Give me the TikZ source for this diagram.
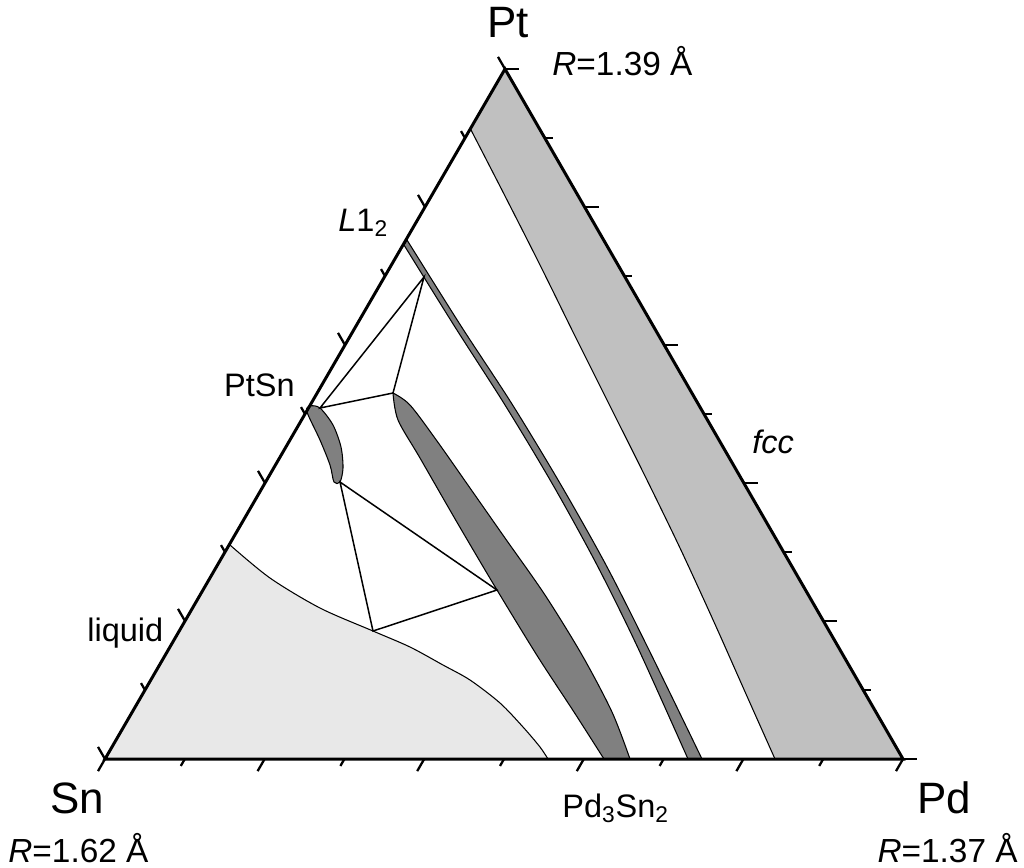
\documentclass[tikz,border=0pt]{standalone}
\usepackage{fontspec}
\setmainfont{Liberation Sans}
\usetikzlibrary{calc}
\definecolor{fccgray}{HTML}{C0C0C0}
\definecolor{phasegray}{HTML}{808080}
\definecolor{liqgray}{HTML}{E8E8E8}
\tikzset{
  edgeline/.style={line width=1.7pt},
  majortick/.style={line width=1.3pt},
  bound/.style={line width=0.6pt},
  tieline/.style={line width=0.85pt},
  vlab/.style={inner sep=0pt, font=\fontsize{25}{30}\selectfont},
  rlab/.style={inner sep=0pt, font=\fontsize{19}{23}\selectfont},
  slab/.style={inner sep=0pt, font=\fontsize{18.5}{22}\selectfont}
}
\begin{document}
\begin{tikzpicture}[x=0.02cm,y=-0.02cm]
\useasboundingbox (0,0) rectangle (1024,867);
\coordinate (Pt) at (505,69);
\coordinate (Sn) at (105,759);
\coordinate (Pd) at (903,759);

% fcc region
\def\fccb{(775,759) (746,694) (714,622) (680,548) (645,476) (610,406) (575,336) (540,265) (505,196) (470,128)}
\fill[fccgray] (Pt) -- (Pd) -- (775,759) -- plot[smooth] coordinates {\fccb} -- cycle;
\draw[bound] plot[smooth] coordinates {\fccb};

% liquid region
\def\liqb{(230,545) (270,578) (320,608) (373,631) (410,647) (443,665) (470,680) (500,703) (523,727) (540,747) (548,759)}
\fill[liqgray] (Sn) -- (230,545) -- plot[smooth] coordinates {\liqb} -- cycle;
\draw[bound] plot[smooth] coordinates {\liqb};

% L1_2 band
\filldraw[phasegray, draw=black, bound] plot[smooth] coordinates {(404,245) (455,327) (505,405) (553,485) (597,565) (638,648) (688,759)}
  -- plot[smooth] coordinates {(702,759) (648,648) (606,565) (561,485) (512,404) (461,326) (407,240)} -- cycle;

% Pd3Sn2 band
\filldraw[phasegray, draw=black, bound] plot[smooth] coordinates {(393,393) (398,420) (420,458) (458,524) (497,590) (538,657) (574,712) (604,759)}
  -- plot[smooth] coordinates {(630,759) (612,712) (582,655) (545,595) (505,538) (470,488) (437,441) (410,405) (393,393)} -- cycle;

% PtSn phase
\filldraw[phasegray, draw=black, bound] plot[smooth cycle] coordinates {(307,412) (310,406) (320,408) (333,425) (341,447) (343,468) (340,482) (334,482) (330,465) (320,440)};

% tie lines
\coordinate (ptsnA) at (320,408);
\coordinate (l12) at (424,277);
\coordinate (pdtip) at (393,393);
\coordinate (ptsnB) at (340,482);
\coordinate (liqP) at (373,631);
\coordinate (pdP) at (497,590);
\draw[tieline] (ptsnA) -- (l12) -- (pdtip) -- cycle;
\draw[tieline] (ptsnB) -- (liqP) -- (pdP) -- cycle;

% triangle
\draw[edgeline] (Pt) -- (Sn) -- (Pd) -- cycle;

% ticks
\foreach \k in {0,...,10}{
  \pgfmathsetmacro{\len}{ifthenelse(mod(\k,2)==0,14,8)}
  \draw[majortick] ($(Pt)!\k/10!(Pd)$) -- ++(\len,0);
  \draw[majortick] ($(Pt)!\k/10!(Sn)$) -- ++({-0.5*\len},{-0.866*\len});
  \draw[majortick] ($(Sn)!\k/10!(Pd)$) -- ++({-0.5*\len},{0.866*\len});
}

% labels
\node[vlab, anchor=base] (ptlab) at (508,37) {Pt};
\node[vlab, anchor=base] (snlab) at (77,813) {Sn};
\node[vlab, anchor=base] (pdlab) at (944,813) {Pd};
\node[rlab, anchor=base west] (rpt) at (552,75) {\textit{R}=1.39 Å};
\node[rlab, anchor=base west] (rsn) at (8,862) {\textit{R}=1.62 Å};
\node[rlab, anchor=base east] (rpd) at (1018,862) {\textit{R}=1.37 Å};
\node[slab, anchor=base west] (l12lab) at (338,231) {\textit{L}1\textsubscript{2}};
\node[slab, anchor=base east] (ptsnlab) at (295,396) {PtSn};
\node[slab, anchor=base west] (fcclab) at (752,453) {\textit{fcc}};
\node[slab, anchor=base west] (liqlab) at (87,641) {liquid};
\node[slab, anchor=base west] (pdsnlab) at (562,817) {Pd\textsubscript{3}Sn\textsubscript{2}};
\end{tikzpicture}
\end{document}
